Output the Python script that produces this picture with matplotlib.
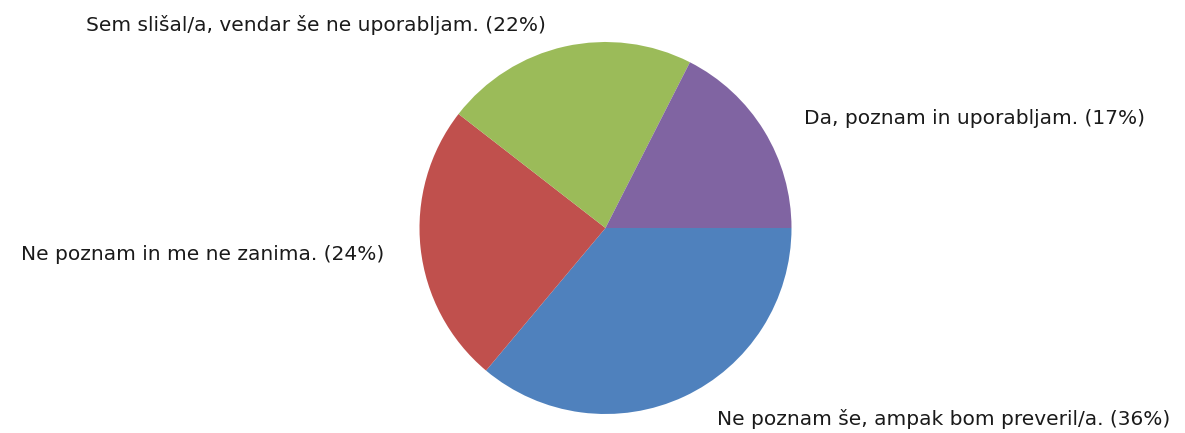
#!/usr/bin/env python3
# plot.py - survey answers pie

import matplotlib.pyplot as plt

answers = [
    "Ne poznam še, ampak bom preveril/a.",
    "Ne poznam in me ne zanima.",
    "Sem slišal/a, vendar še ne uporabljam.",
    "Da, poznam in uporabljam.",
]
shares = [36.1, 24.4, 22.0, 17.5]  # slice sizes
shown_pct = [36, 24, 22, 17]
colors = ["#4F81BD", "#C0504D", "#9BBB59", "#8064A2"]

# label anchor (centre x, centre y) in pixels from top-left
label_pos = [(944, 419), (203, 255), (316, 25), (975, 118)]

W, H = 1185, 433


def main():
    fig = plt.figure(figsize=(W / 100, H / 100), dpi=100)
    ax = fig.add_axes([0, 0, 1, 1])

    ax.pie(shares, colors=colors, startangle=0, counterclock=False,
           center=(605.5, H - 228), radius=186, frame=True)
    ax.set_xlim(0, W)
    ax.set_ylim(0, H)
    ax.axis("off")

    for name, pct, (x, y) in zip(answers, shown_pct, label_pos):
        ax.text(x, H - y, f"{name} ({pct}%)", fontsize=14.5,
                family="DejaVu Sans", color="#1a1a1a", ha="center", va="center")

    fig.savefig("out.png", dpi=100)


if __name__ == "__main__":
    main()
